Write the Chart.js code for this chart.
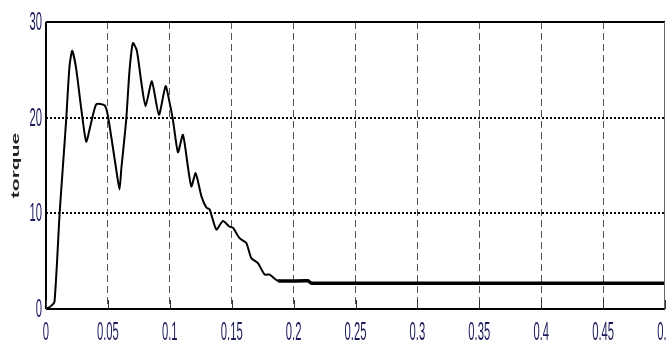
<!DOCTYPE html>
<html>
<head>
<meta charset="utf-8">
<script src="https://cdn.jsdelivr.net/npm/chart.js@4.4.1/dist/chart.umd.min.js"></script>
<style>
  html, body { margin: 0; padding: 0; background: #fff; }
  #wrap { width: 666px; height: 341px; }
</style>
</head>
<body>
<div id="wrap"><canvas id="torqueChart"></canvas></div>
<script>
// time (s) and torque
const timeValues = [0, 0.004, 0.0069, 0.011, 0.0136, 0.0163, 0.019, 0.0212, 0.0244, 0.0285,
  0.0325, 0.0365, 0.0406, 0.0473, 0.05, 0.0567, 0.0594, 0.0608, 0.0648, 0.0675,
  0.0702, 0.0734, 0.077, 0.0804, 0.0855, 0.0912, 0.0966, 0.0998, 0.1025, 0.1066,
  0.1106, 0.1146, 0.1174, 0.1209, 0.1255, 0.1295, 0.1322, 0.1376, 0.1429, 0.1483,
  0.151, 0.1564, 0.1618, 0.1659, 0.1712, 0.1766, 0.1807, 0.1874, 0.2116, 0.2144, 0.5];
const torqueValues = [0, 0.3, 0.8, 10, 14.8, 19.8, 25.4, 27.0, 25.1, 20.9,
  17.5, 19.5, 21.4, 21.3, 20.2, 14.6, 12.5, 14.6, 19.8, 25.0,
  27.8, 27.0, 23.7, 21.2, 23.8, 20.3, 23.3, 21.6, 19.8, 16.4,
  18.2, 14.9, 12.8, 14.2, 11.8, 10.6, 10.4, 8.3, 9.2, 8.6,
  8.5, 7.4, 6.9, 5.3, 4.8, 3.6, 3.6, 2.95, 2.95, 2.7, 2.7];

const xTicks = [0, 0.05, 0.1, 0.15, 0.2, 0.25, 0.3, 0.35, 0.4, 0.45, 0.5];
const xTickLabels = ['0', '0.05', '0.1', '0.15', '0.2', '0.25', '0.3', '0.35', '0.4', '0.45', '0.5'];
const yTicks = [0, 10, 20, 30];
const yTickLabels = ['0', '10', '20', '30'];
const yTitle = 'torque';

const points = timeValues.map((t, i) => ({ x: t, y: torqueValues[i] }));

// matlab-ish frame, inner ticks and squeezed tick labels
const framePlugin = {
  id: 'frame',
  afterDraw(chart) {
    const ctx = chart.ctx;
    const a = chart.chartArea;
    const xs = chart.scales.x;
    const ys = chart.scales.y;
    ctx.save();

    ctx.strokeStyle = '#000';
    ctx.lineWidth = 2;
    ctx.beginPath();
    ctx.moveTo(a.left, a.top); ctx.lineTo(a.right, a.top);
    ctx.moveTo(a.left, a.bottom); ctx.lineTo(a.right, a.bottom);
    ctx.moveTo(a.left, a.top); ctx.lineTo(a.left, a.bottom);
    ctx.stroke();
    ctx.strokeStyle = '#666';
    ctx.lineWidth = 1;
    ctx.beginPath();
    ctx.moveTo(a.right - 0.5, a.top); ctx.lineTo(a.right - 0.5, a.bottom);
    ctx.stroke();

    ctx.strokeStyle = '#333';
    ctx.lineWidth = 1;
    ctx.beginPath();
    xTicks.forEach(v => {
      const px = Math.round(xs.getPixelForValue(v)) + 0.5;
      ctx.moveTo(px, a.bottom);
      ctx.lineTo(px, a.bottom - 9);
    });
    ctx.stroke();

    ctx.fillStyle = '#1c1c5c';
    ctx.font = '25px "Liberation Sans", Arial, sans-serif';
    ctx.textAlign = 'center';
    ctx.textBaseline = 'alphabetic';
    xTicks.forEach((v, i) => {
      ctx.save();
      ctx.translate(xs.getPixelForValue(v), a.bottom + 31);
      ctx.scale(0.45, 1);
      ctx.fillText(xTickLabels[i], 0, 0);
      ctx.restore();
    });
    ctx.textAlign = 'right';
    ctx.textBaseline = 'middle';
    yTicks.forEach((v, i) => {
      ctx.save();
      ctx.translate(a.left - 4, ys.getPixelForValue(v) + 1);
      ctx.scale(0.45, 1);
      ctx.fillText(yTickLabels[i], 0, 0);
      ctx.restore();
    });

    ctx.save();
    ctx.fillStyle = '#222';
    ctx.font = 'bold 21px "Liberation Sans", Arial, sans-serif';
    ctx.textAlign = 'center';
    ctx.textBaseline = 'middle';
    ctx.translate(16, (a.top + a.bottom) / 2);
    ctx.rotate(-Math.PI / 2);
    ctx.scale(1, 0.5);
    ctx.fillText(yTitle, 0, 0);
    ctx.restore();

    ctx.restore();
  }
};

new Chart(document.getElementById('torqueChart'), {
  type: 'line',
  data: {
    datasets: [{
      data: points,
      borderColor: '#000',
      borderWidth: 2,
      pointRadius: 0,
      tension: 0.2,
      fill: false,
      segment: {
        borderWidth: c => (c.p0.parsed.x >= 0.185 ? 3.5 : 2),
      },
    }],
  },
  options: {
    responsive: true,
    maintainAspectRatio: false,
    animation: false,
    layout: { padding: { top: 22, right: 1, left: 0, bottom: 0 } },
    plugins: {
      legend: { display: false },
      tooltip: { enabled: false },
    },
    scales: {
      x: {
        type: 'linear',
        min: 0,
        max: 0.5,
        afterBuildTicks: s => { s.ticks = xTicks.map(v => ({ value: v })); },
        afterFit: s => { s.height = 32; s.paddingLeft = 0; s.paddingRight = 0; },
        ticks: { display: false },
        border: { display: false, dash: [7, 4] },
        grid: {
          drawTicks: false,
          lineWidth: 1,
          color: c => (c.tick && c.tick.value > 0 && c.tick.value < 0.5 ? '#555' : 'transparent'),
        },
      },
      y: {
        min: 0,
        max: 30,
        afterBuildTicks: s => { s.ticks = yTicks.map(v => ({ value: v })); },
        afterFit: s => { s.width = 46; s.paddingTop = 0; s.paddingBottom = 0; },
        ticks: { display: false },
        border: { display: false, dash: [2, 2] },
        grid: {
          drawTicks: false,
          lineWidth: 2,
          color: c => (c.tick && c.tick.value > 0 && c.tick.value < 30 ? '#000' : 'transparent'),
        },
      },
    },
  },
  plugins: [framePlugin],
});
</script>
</body>
</html>
